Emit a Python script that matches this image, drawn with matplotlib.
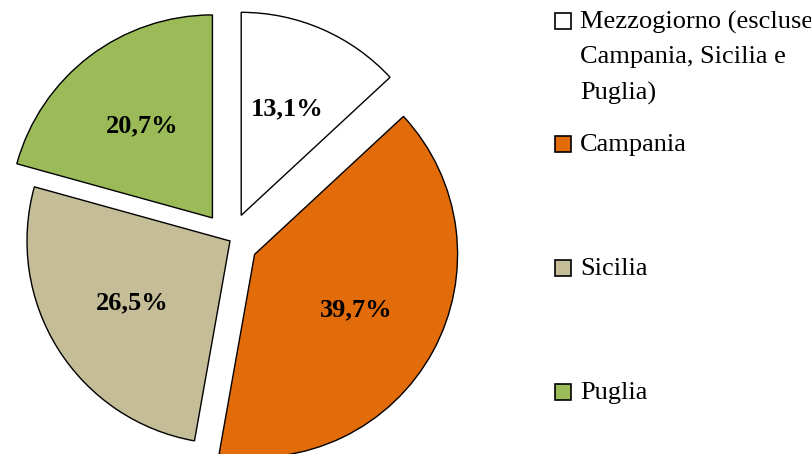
import matplotlib
matplotlib.use("Agg")
import matplotlib.pyplot as plt
from matplotlib.patches import Rectangle

categories = ["Mezzogiorno (escluse\nCampania, Sicilia e\nPuglia)", "Campania", "Sicilia", "Puglia"]
values = [13.1, 39.7, 26.5, 20.7]
colors = ["#FFFFFF", "#E36C0A", "#C4BD97", "#9BBB59"]

W, H = 811, 454
R = 203
explode = [28, 28, 0, 29]  # pixel offsets of exploded slices

fig = plt.figure(figsize=(W / 100, H / 100), dpi=100)
ax = fig.add_axes([0, 0, 1, 1])

serif = ["Liberation Serif", "DejaVu Serif"]

wedges, texts, autotexts = ax.pie(
    values, colors=colors, explode=explode, startangle=90, counterclock=False,
    center=(230, H - 241), radius=R, pctdistance=0.57,
    autopct=lambda p: f"{p:.1f}%".replace(".", ","),
    wedgeprops=dict(edgecolor="black", linewidth=1.0),
    textprops=dict(fontsize=19, fontweight="bold", family=serif, color="black"),
)
ax.set_xlim(0, W)
ax.set_ylim(0, H)
ax.set_aspect("equal")
ax.axis("off")

# legend drawn manually (Excel-like layout)
legend_y = [21, 144, 268, 392]
line_gap = 35.5
for lab, col, y in zip(categories, colors, legend_y):
    fig.patches.append(Rectangle((555 / W, (H - y - 8) / H), 16 / W, 16 / H,
                                 transform=fig.transFigure, facecolor=col,
                                 edgecolor="black", linewidth=1.2))
    for i, line in enumerate(lab.split("\n")):
        fig.text(580 / W, (H - y - 1 - i * line_gap) / H, line, ha="left", va="center",
                 fontsize=19, family=serif)

fig.savefig("out.png", dpi=100)
